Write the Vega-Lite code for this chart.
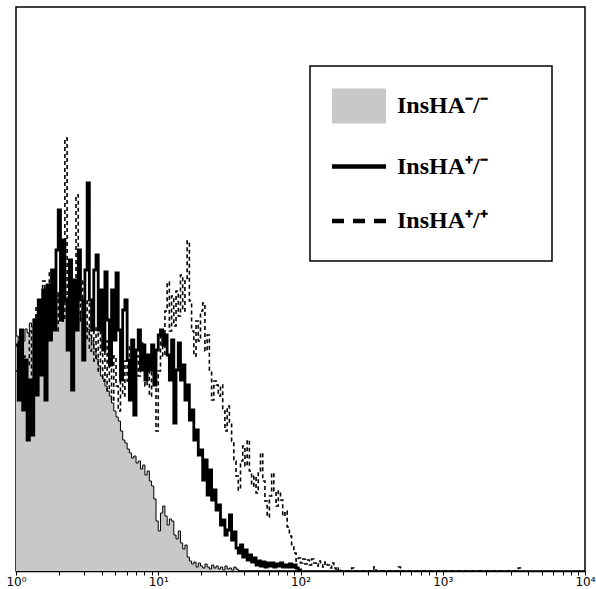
{
"$schema": "https://vega.github.io/schema/vega-lite/v6.json",
"width": 569, "height": 564,
"autosize": {"type": "none"},
"padding": {"left": 16, "top": 7, "right": 11, "bottom": 18},
"background": "white",
"config": {"view": {"stroke": "black", "strokeWidth": 1.5}},
"datasets": {
"neg": [{"c":0,"v":235},{"c":1,"v":228},{"c":2,"v":236},{"c":3,"v":230},{"c":4,"v":242},{"c":5,"v":238},{"c":6,"v":248},{"c":7,"v":244},{"c":8,"v":252},{"c":9,"v":256},{"c":10,"v":250},{"c":11,"v":260},{"c":12,"v":264},{"c":13,"v":258},{"c":14,"v":268},{"c":15,"v":265},{"c":16,"v":272},{"c":17,"v":268},{"c":18,"v":275},{"c":19,"v":270},{"c":20,"v":276},{"c":21,"v":272},{"c":22,"v":270},{"c":23,"v":274},{"c":24,"v":268},{"c":25,"v":265},{"c":26,"v":266},{"c":27,"v":260},{"c":28,"v":258},{"c":29,"v":252},{"c":30,"v":250},{"c":31,"v":244},{"c":32,"v":242},{"c":33,"v":236},{"c":34,"v":230},{"c":35,"v":222},{"c":36,"v":212},{"c":37,"v":205},{"c":38,"v":195},{"c":39,"v":192},{"c":40,"v":185},{"c":41,"v":180},{"c":42,"v":175},{"c":43,"v":168},{"c":44,"v":160},{"c":45,"v":154},{"c":46,"v":150},{"c":47,"v":140},{"c":48,"v":131},{"c":49,"v":128},{"c":50,"v":122},{"c":51,"v":118},{"c":52,"v":113},{"c":53,"v":115},{"c":54,"v":108},{"c":55,"v":110},{"c":56,"v":102},{"c":57,"v":106},{"c":58,"v":96},{"c":59,"v":100},{"c":60,"v":90},{"c":61,"v":85},{"c":62,"v":72},{"c":63,"v":50},{"c":64,"v":40},{"c":65,"v":58},{"c":66,"v":65},{"c":67,"v":55},{"c":68,"v":46},{"c":69,"v":52},{"c":70,"v":50},{"c":71,"v":36},{"c":72,"v":32},{"c":73,"v":40},{"c":74,"v":28},{"c":75,"v":22},{"c":76,"v":26},{"c":77,"v":14},{"c":78,"v":10},{"c":79,"v":7},{"c":80,"v":9},{"c":81,"v":4},{"c":82,"v":8},{"c":83,"v":5},{"c":84,"v":3},{"c":85,"v":7},{"c":86,"v":4},{"c":87,"v":2},{"c":88,"v":6},{"c":89,"v":3},{"c":90,"v":5},{"c":91,"v":2},{"c":92,"v":4},{"c":93,"v":1},{"c":94,"v":5},{"c":95,"v":2},{"c":96,"v":3},{"c":97,"v":1},{"c":98,"v":4},{"c":99,"v":2},{"c":100,"v":0}],
"het": [{"c":0,"v":226},{"c":1,"v":171},{"c":2,"v":241},{"c":3,"v":161},{"c":4,"v":211},{"c":5,"v":131},{"c":6,"v":191},{"c":7,"v":136},{"c":8,"v":251},{"c":9,"v":176},{"c":10,"v":271},{"c":11,"v":196},{"c":12,"v":281},{"c":13,"v":171},{"c":14,"v":286},{"c":15,"v":231},{"c":16,"v":301},{"c":17,"v":241},{"c":18,"v":321},{"c":19,"v":361},{"c":20,"v":251},{"c":21,"v":331},{"c":22,"v":271},{"c":23,"v":221},{"c":24,"v":311},{"c":25,"v":181},{"c":26,"v":291},{"c":27,"v":241},{"c":28,"v":321},{"c":29,"v":271},{"c":30,"v":211},{"c":31,"v":301},{"c":32,"v":388},{"c":33,"v":271},{"c":34,"v":241},{"c":35,"v":301},{"c":36,"v":316},{"c":37,"v":241},{"c":38,"v":281},{"c":39,"v":221},{"c":40,"v":299},{"c":41,"v":251},{"c":42,"v":206},{"c":43,"v":281},{"c":44,"v":231},{"c":45,"v":298},{"c":46,"v":241},{"c":47,"v":191},{"c":48,"v":261},{"c":49,"v":271},{"c":50,"v":211},{"c":51,"v":171},{"c":52,"v":231},{"c":53,"v":156},{"c":54,"v":221},{"c":55,"v":241},{"c":56,"v":201},{"c":57,"v":226},{"c":58,"v":191},{"c":59,"v":216},{"c":60,"v":201},{"c":61,"v":226},{"c":62,"v":186},{"c":63,"v":221},{"c":64,"v":236},{"c":65,"v":241},{"c":66,"v":226},{"c":67,"v":236},{"c":68,"v":216},{"c":69,"v":191},{"c":70,"v":231},{"c":71,"v":148},{"c":72,"v":201},{"c":73,"v":228},{"c":74,"v":191},{"c":75,"v":206},{"c":76,"v":171},{"c":77,"v":186},{"c":78,"v":151},{"c":79,"v":161},{"c":80,"v":131},{"c":81,"v":141},{"c":82,"v":116},{"c":83,"v":121},{"c":84,"v":91},{"c":85,"v":111},{"c":86,"v":76},{"c":87,"v":101},{"c":88,"v":71},{"c":89,"v":81},{"c":90,"v":61},{"c":91,"v":66},{"c":92,"v":46},{"c":93,"v":51},{"c":94,"v":36},{"c":95,"v":41},{"c":96,"v":56},{"c":97,"v":31},{"c":98,"v":39},{"c":99,"v":23},{"c":100,"v":18},{"c":101,"v":26},{"c":102,"v":14},{"c":103,"v":21},{"c":104,"v":11},{"c":105,"v":16},{"c":106,"v":9},{"c":107,"v":13},{"c":108,"v":6},{"c":109,"v":10},{"c":110,"v":5},{"c":111,"v":9},{"c":112,"v":4},{"c":113,"v":8},{"c":114,"v":5},{"c":115,"v":8},{"c":116,"v":4},{"c":117,"v":7},{"c":118,"v":5},{"c":119,"v":8},{"c":120,"v":4},{"c":121,"v":6},{"c":122,"v":4},{"c":123,"v":7},{"c":124,"v":4},{"c":125,"v":6},{"c":126,"v":3},{"c":127,"v":1},{"c":128,"v":0}],
"hom": [{"c":0,"v":200},{"c":1,"v":230},{"c":2,"v":185},{"c":3,"v":215},{"c":4,"v":175},{"c":5,"v":205},{"c":6,"v":240},{"c":7,"v":190},{"c":8,"v":230},{"c":9,"v":265},{"c":10,"v":220},{"c":11,"v":250},{"c":12,"v":290},{"c":13,"v":240},{"c":14,"v":275},{"c":15,"v":300},{"c":16,"v":250},{"c":17,"v":290},{"c":18,"v":240},{"c":19,"v":280},{"c":20,"v":300},{"c":21,"v":250},{"c":22,"v":433},{"c":23,"v":260},{"c":24,"v":300},{"c":25,"v":240},{"c":26,"v":280},{"c":27,"v":376},{"c":28,"v":310},{"c":29,"v":250},{"c":30,"v":290},{"c":31,"v":230},{"c":32,"v":270},{"c":33,"v":220},{"c":34,"v":260},{"c":35,"v":210},{"c":36,"v":245},{"c":37,"v":200},{"c":38,"v":240},{"c":39,"v":190},{"c":40,"v":230},{"c":41,"v":180},{"c":42,"v":205},{"c":43,"v":170},{"c":44,"v":215},{"c":45,"v":185},{"c":46,"v":160},{"c":47,"v":200},{"c":48,"v":175},{"c":49,"v":210},{"c":50,"v":190},{"c":51,"v":225},{"c":52,"v":200},{"c":53,"v":180},{"c":54,"v":215},{"c":55,"v":195},{"c":56,"v":230},{"c":57,"v":205},{"c":58,"v":185},{"c":59,"v":210},{"c":60,"v":175},{"c":61,"v":215},{"c":62,"v":190},{"c":63,"v":140},{"c":64,"v":200},{"c":65,"v":235},{"c":66,"v":215},{"c":67,"v":260},{"c":68,"v":289},{"c":69,"v":240},{"c":70,"v":275},{"c":71,"v":245},{"c":72,"v":280},{"c":73,"v":255},{"c":74,"v":296},{"c":75,"v":260},{"c":76,"v":290},{"c":77,"v":330},{"c":78,"v":270},{"c":79,"v":240},{"c":80,"v":215},{"c":81,"v":250},{"c":82,"v":230},{"c":83,"v":260},{"c":84,"v":268},{"c":85,"v":220},{"c":86,"v":236},{"c":87,"v":200},{"c":88,"v":171},{"c":89,"v":190},{"c":90,"v":186},{"c":91,"v":175},{"c":92,"v":186},{"c":93,"v":160},{"c":94,"v":140},{"c":95,"v":165},{"c":96,"v":148},{"c":97,"v":130},{"c":98,"v":110},{"c":99,"v":95},{"c":100,"v":81},{"c":101,"v":110},{"c":102,"v":125},{"c":103,"v":105},{"c":104,"v":131},{"c":105,"v":100},{"c":106,"v":85},{"c":107,"v":95},{"c":108,"v":78},{"c":109,"v":100},{"c":110,"v":118},{"c":111,"v":90},{"c":112,"v":70},{"c":113,"v":54},{"c":114,"v":75},{"c":115,"v":98},{"c":116,"v":80},{"c":117,"v":65},{"c":118,"v":80},{"c":119,"v":71},{"c":120,"v":55},{"c":121,"v":60},{"c":122,"v":44},{"c":123,"v":35},{"c":124,"v":25},{"c":125,"v":18},{"c":126,"v":10},{"c":127,"v":13},{"c":128,"v":8},{"c":129,"v":12},{"c":130,"v":7},{"c":131,"v":11},{"c":132,"v":6},{"c":133,"v":12},{"c":134,"v":8},{"c":135,"v":5},{"c":136,"v":10},{"c":137,"v":7},{"c":138,"v":4},{"c":139,"v":9},{"c":140,"v":6},{"c":141,"v":3},{"c":142,"v":8},{"c":143,"v":3},{"c":144,"v":0},{"c":145,"v":3},{"c":146,"v":0},{"c":150,"v":0},{"c":151,"v":3},{"c":152,"v":0},{"c":160,"v":0},{"c":161,"v":4},{"c":162,"v":0},{"c":171,"v":0},{"c":172,"v":4},{"c":173,"v":0},{"c":225,"v":0},{"c":226,"v":3},{"c":227,"v":0}]
},
"encoding": {
  "x": {"field": "c", "type": "quantitative", "scale": {"domain": [0, 256], "nice": false, "zero": false},
    "axis": {"title": null, "grid": false, "domainColor": "black", "domainWidth": 1.5, "tickColor": "black", "tickSize": 4, "tickWidth": 1,
      "values": [0,19.27,30.54,38.53,44.74,49.8,54.09,57.8,61.07,64,83.27,94.54,102.53,108.74,113.8,118.09,121.8,125.07,128,147.27,158.54,166.53,172.74,177.8,182.09,185.8,189.07,192,211.27,222.54,230.53,236.74,241.8,246.09,249.8,253.07,256],
      "labelExpr": "datum.value == 0 ? '10⁰' : datum.value == 64 ? '10¹' : datum.value == 128 ? '10²' : datum.value == 192 ? '10³' : datum.value == 256 ? '10⁴' : ''",
      "labelFont": "DejaVu Sans", "labelFontSize": 12, "labelColor": "black", "labelPadding": 1, "labelOverlap": false, "labelFlush": false}},
  "y": {"field": "v", "type": "quantitative", "scale": {"domain": [0, 564], "nice": false}, "axis": null}
},
"layer": [
  {"data": {"name": "neg"}, "mark": {"type": "area", "interpolate": "step-after", "fill": "#c8c8c8"}},
  {"data": {"name": "neg"}, "mark": {"type": "line", "interpolate": "step-after", "strokeWidth": 1},
    "encoding": {"color": {"datum": "neg", "type": "nominal",
      "scale": {"domain": ["neg", "het", "hom"], "range": ["black", "black", "black"]},
      "legend": {"orient": "none", "legendX": 294, "legendY": 59, "title": null, "direction": "vertical",
        "padding": 28, "rowPadding": 30.5, "strokeColor": "black", "fillColor": "white",
        "symbolSize": 2916, "symbolOffset": 9, "labelOffset": 26,
        "labelFont": "Liberation Serif", "labelFontSize": 24, "labelFontWeight": "bold", "labelColor": "black", "labelLimit": 400,
        "labelExpr": "(datum.value == 'neg' ? 'InsHA⁻/⁻' : datum.value == 'het' ? 'InsHA⁺/⁻' : 'InsHA⁺/⁺') + '⠀⠀'",
        "encode": {
          "legend": {"update": {"strokeWidth": {"value": 1.5}}},
          "symbols": {"update": {
            "shape": {"signal": "datum.value == 'neg' ? 'M-1,-0.65H1V0.65H-1Z' : 'stroke'"},
            "fill": {"signal": "datum.value == 'neg' ? '#c8c8c8' : 'transparent'"},
            "stroke": {"signal": "datum.value == 'neg' ? 'transparent' : 'black'"},
            "strokeWidth": {"signal": "datum.value == 'neg' ? 0 : 4.5"},
            "strokeDash": {"signal": "datum.value == 'hom' ? [12, 9] : [1, 0]"},
            "opacity": {"value": 1}
          }}
        }}}}},
  {"data": {"name": "het"}, "mark": {"type": "line", "interpolate": "step-after", "strokeWidth": 2.8},
    "encoding": {"color": {"datum": "het", "type": "nominal"}}},
  {"data": {"name": "hom"}, "mark": {"type": "line", "interpolate": "step-after", "strokeWidth": 1.6, "strokeDash": [4, 3]},
    "encoding": {"color": {"datum": "hom", "type": "nominal"}}}
]
}
